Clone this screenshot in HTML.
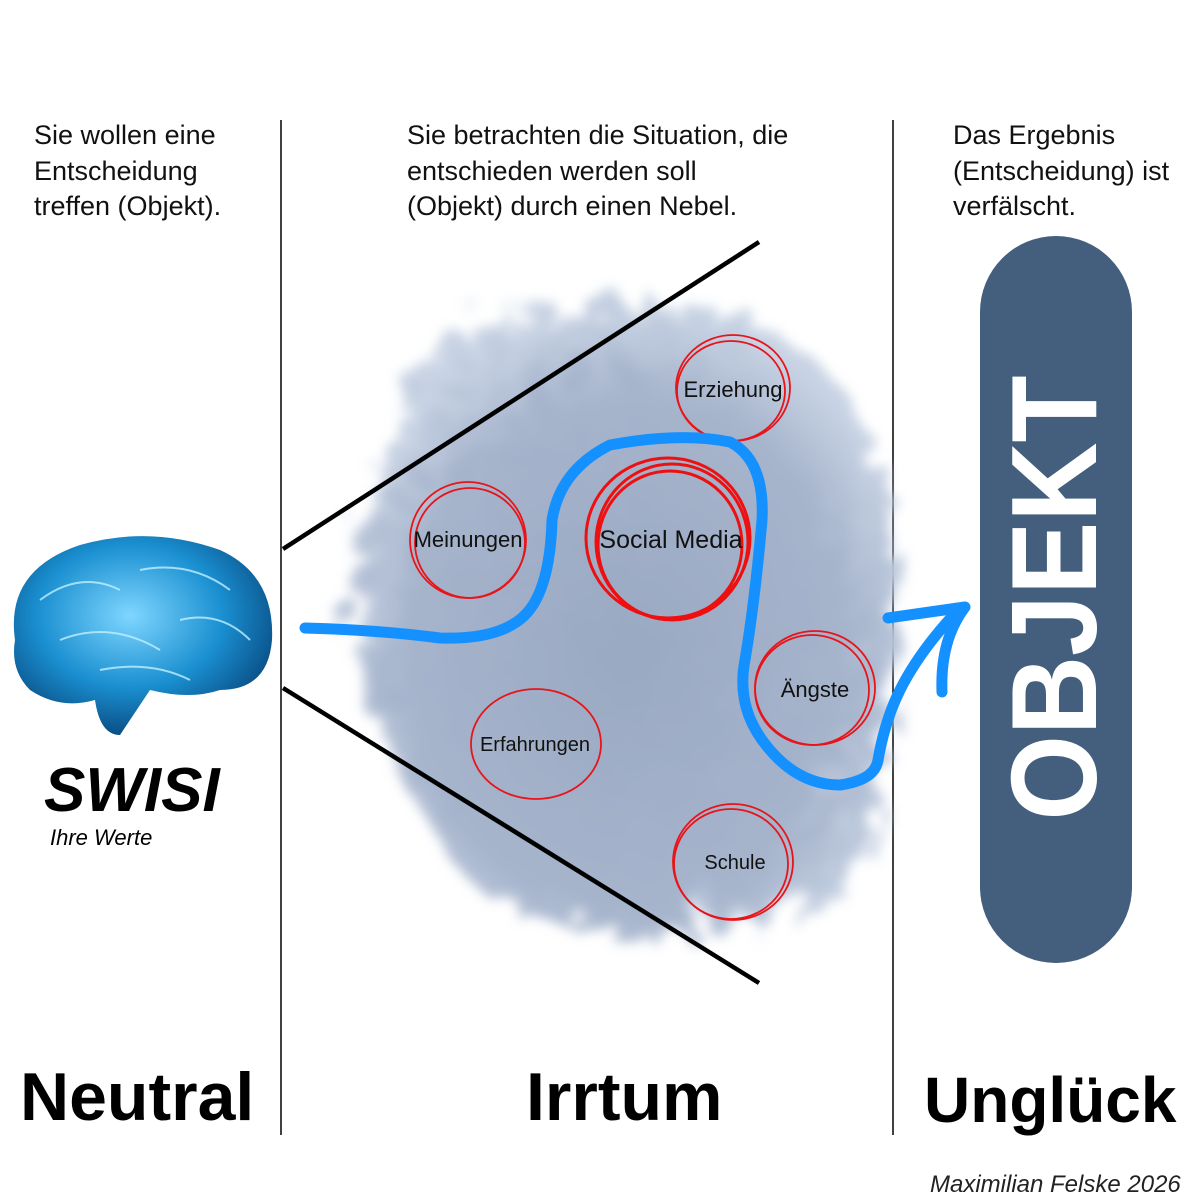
<!DOCTYPE html>
<html><head><meta charset="utf-8"><style>
body{margin:0;background:#fff;width:1200px;height:1200px;position:relative;overflow:hidden;font-family:"Liberation Sans","DejaVu Sans",sans-serif}
.t{position:absolute;font-size:27px;line-height:35.5px;color:#111}
.b{position:absolute;font-weight:bold;color:#000;font-family:"Liberation Sans",sans-serif;line-height:1}
</style></head><body>
<svg width="1200" height="1200" style="position:absolute;left:0;top:0">
<defs>
<filter id="f" x="-20%" y="-20%" width="140%" height="140%"><feTurbulence baseFrequency="0.025" numOctaves="4" seed="3"/><feDisplacementMap in="SourceGraphic" scale="60"/><feGaussianBlur stdDeviation="6"/></filter>
<radialGradient id="fog" cx="50%" cy="55%" r="55%"><stop offset="0" stop-color="#9aa9c2"/><stop offset="0.75" stop-color="#a6b4cc"/><stop offset="1" stop-color="#c8d3e4"/></radialGradient>
<radialGradient id="br" cx="45%" cy="40%" r="60%"><stop offset="0" stop-color="#7fd6ff"/><stop offset="0.6" stop-color="#1a8fd0"/><stop offset="1" stop-color="#0a4f86"/></radialGradient>
</defs>
<line x1="281" y1="120" x2="281" y2="1135" stroke="#000" stroke-width="1.5"/>
<line x1="893" y1="120" x2="893" y2="1135" stroke="#000" stroke-width="1.5"/>
<path d="M420 330 Q560 280 700 300 Q850 330 880 500 Q900 650 860 820 Q810 930 650 920 Q480 930 420 820 Q340 700 345 580 Q360 420 420 330Z" fill="url(#fog)" filter="url(#f)"/>
<line x1="283" y1="549" x2="759" y2="242" stroke="#000" stroke-width="4.5"/>
<line x1="283" y1="688" x2="759" y2="983" stroke="#000" stroke-width="4.5"/>
<g fill="none" stroke="#e8141a" stroke-width="1.8">
<ellipse cx="733" cy="388" rx="57" ry="53"/><ellipse cx="731" cy="391" rx="54" ry="50"/>
<ellipse cx="468" cy="540" rx="58" ry="58"/><ellipse cx="470" cy="543" rx="55" ry="55"/>
<ellipse cx="815" cy="688" rx="60" ry="57"/><ellipse cx="812" cy="690" rx="57" ry="55"/>
<ellipse cx="536" cy="744" rx="65" ry="55"/>
<ellipse cx="733" cy="862" rx="60" ry="58"/><ellipse cx="731" cy="864" rx="57" ry="55"/>
</g>
<g fill="none" stroke="#ee1010" stroke-width="3">
<ellipse cx="668" cy="538" rx="82" ry="80"/><ellipse cx="672" cy="542" rx="76" ry="78"/><ellipse cx="670" cy="545" rx="72" ry="74"/>
</g>
<path d="M305 628 Q380 630 440 638 Q500 640 525 615 Q550 590 552 520 Q560 470 610 445 Q680 432 730 442 Q765 460 762 520 Q755 600 745 660 Q735 710 770 750 Q800 785 840 785 Q875 780 878 760 Q885 720 900 690 Q920 650 960 608" fill="none" stroke="#1591ff" stroke-width="11" stroke-linecap="round" stroke-linejoin="round"/>
<path d="M888 618 Q930 612 965 607 M965 607 Q940 640 942 692" fill="none" stroke="#1591ff" stroke-width="11" stroke-linecap="round"/>
<rect x="980" y="236" width="152" height="727" rx="76" fill="#435f7d"/>
<text transform="translate(1096,598) rotate(-90)" text-anchor="middle" fill="#fff" font-family="Liberation Sans" font-weight="bold" font-size="122" textLength="445" lengthAdjust="spacingAndGlyphs">OBJEKT</text>
<g>
<path d="M15 640 Q5 570 80 545 Q150 525 220 550 Q275 575 272 640 Q268 690 220 690 Q190 700 150 690 Q130 720 120 735 Q100 735 95 700 Q60 710 30 690 Q10 670 15 640Z" fill="url(#br)"/>
<path d="M40 600 Q80 570 120 590 M140 570 Q190 560 230 590 M60 640 Q110 620 160 650 M180 620 Q220 610 250 640 M100 670 Q150 660 190 680" stroke="#bff0ff" stroke-width="2" fill="none" opacity="0.8"/>
</g>
<g font-family="Liberation Sans" font-size="22" fill="#111" text-anchor="middle">
<text x="733" y="397">Erziehung</text>
<text x="468" y="547">Meinungen</text>
<text x="671" y="548" font-size="25">Social Media</text>
<text x="815" y="697">Ängste</text>
<text x="535" y="751" font-size="20">Erfahrungen</text>
<text x="735" y="869" font-size="20">Schule</text>
</g>
</svg>
<div class="t" style="left:34px;top:118px">Sie wollen eine<br>Entscheidung<br>treffen (Objekt).</div>
<div class="t" style="left:407px;top:118px">Sie betrachten die Situation, die<br>entschieden werden soll<br>(Objekt) durch einen Nebel.</div>
<div class="t" style="left:953px;top:118px">Das Ergebnis<br>(Entscheidung) ist<br>verfälscht.</div>
<div class="b" style="left:44px;top:760px;font-size:62px;font-style:italic">SWISI</div>
<div style="position:absolute;left:50px;top:825px;font-size:22px;font-style:italic">Ihre Werte</div>
<div class="b" style="left:20px;top:1063px;font-size:68px">Neutral</div>
<div class="b" style="left:526px;top:1063px;font-size:68px">Irrtum</div>
<div class="b" style="left:924px;top:1068px;font-size:64px">Unglück</div>
<div style="position:absolute;left:930px;top:1171px;font-size:24px;font-style:italic;color:#222">Maximilian Felske 2026</div>
</body></html>
